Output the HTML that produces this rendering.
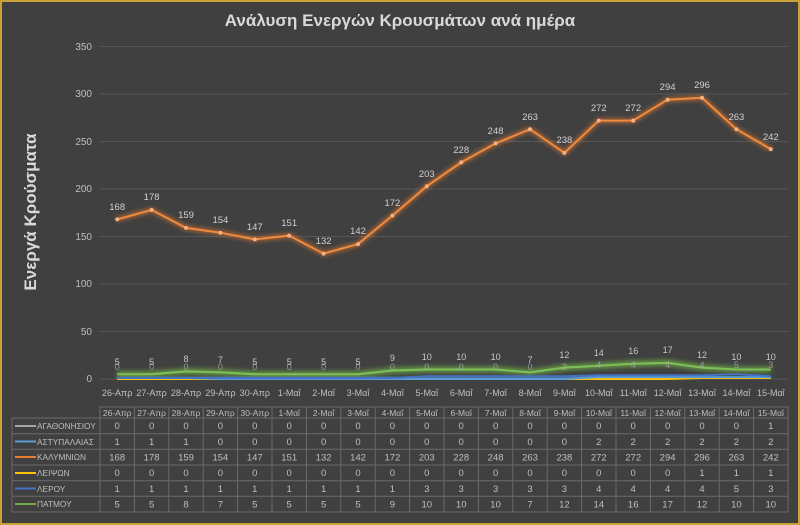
<!DOCTYPE html>
<html><head><meta charset="utf-8"><style>
html,body{margin:0;padding:0;background:#404040}
svg{display:block}
text{font-family:"Liberation Sans",sans-serif}
</style></head><body>
<svg width="800" height="525" viewBox="0 0 800 525" xmlns="http://www.w3.org/2000/svg">
<defs><filter id="g" x="-5%" y="-50%" width="110%" height="200%"><feGaussianBlur stdDeviation="2.5"/></filter></defs>
<rect x="1" y="1" width="798" height="523" fill="#404040" stroke="#c9a235" stroke-width="2"/>
<text x="400" y="26" text-anchor="middle" font-size="17" font-weight="bold" fill="#d9d9d9">Ανάλυση Ενεργών Κρουσμάτων ανά ημέρα</text>
<text transform="translate(36,212) rotate(-90)" text-anchor="middle" font-size="17" font-weight="bold" fill="#d9d9d9">Ενεργά Κρούσματα</text>
<g stroke="#565656" stroke-width="1">
<line x1="100" x2="788" y1="46.5" y2="46.5"/><line x1="100" x2="788" y1="94" y2="94"/><line x1="100" x2="788" y1="141.5" y2="141.5"/><line x1="100" x2="788" y1="189" y2="189"/><line x1="100" x2="788" y1="236.5" y2="236.5"/><line x1="100" x2="788" y1="284" y2="284"/><line x1="100" x2="788" y1="331.5" y2="331.5"/><line x1="100" x2="788" y1="379" y2="379"/>
</g>
<g font-size="10" fill="#bfbfbf" text-anchor="end">
<text x="92" y="50">350</text><text x="92" y="97">300</text><text x="92" y="145">250</text><text x="92" y="192">200</text><text x="92" y="240">150</text><text x="92" y="287">100</text><text x="92" y="335">50</text><text x="92" y="382">0</text>
</g>
<g font-size="9" fill="#bfbfbf" text-anchor="middle">
<text x="117.2" y="396">26-Απρ</text><text x="151.6" y="396">27-Απρ</text><text x="186" y="396">28-Απρ</text><text x="220.4" y="396">29-Απρ</text><text x="254.8" y="396">30-Απρ</text><text x="289.2" y="396">1-Μαΐ</text><text x="323.6" y="396">2-Μαΐ</text><text x="358" y="396">3-Μαΐ</text><text x="392.4" y="396">4-Μαΐ</text><text x="426.8" y="396">5-Μαΐ</text><text x="461.2" y="396">6-Μαΐ</text><text x="495.6" y="396">7-Μαΐ</text><text x="530" y="396">8-Μαΐ</text><text x="564.4" y="396">9-Μαΐ</text><text x="598.8" y="396">10-Μαΐ</text><text x="633.2" y="396">11-Μαΐ</text><text x="667.6" y="396">12-Μαΐ</text><text x="702" y="396">13-Μαΐ</text><text x="736.4" y="396">14-Μαΐ</text><text x="770.8" y="396">15-Μαΐ</text>
</g>
<polyline filter="url(#g)" fill="none" stroke="#ed7d31" stroke-width="4" opacity="0.7" points="117.2,219.4 151.6,209.9 186,227.9 220.4,232.7 254.8,239.4 289.2,235.6 323.6,253.6 358,244.1 392.4,215.6 426.8,186.2 461.2,162.4 495.6,143.4 530,129.2 564.4,152.9 598.8,120.6 633.2,120.6 667.6,99.7 702,97.8 736.4,129.2 770.8,149.1"/>
<polyline fill="none" stroke="#f08a3c" stroke-width="2" points="117.2,219.4 151.6,209.9 186,227.9 220.4,232.7 254.8,239.4 289.2,235.6 323.6,253.6 358,244.1 392.4,215.6 426.8,186.2 461.2,162.4 495.6,143.4 530,129.2 564.4,152.9 598.8,120.6 633.2,120.6 667.6,99.7 702,97.8 736.4,129.2 770.8,149.1"/>
<g fill="#f4b183"><circle cx="117.2" cy="219.4" r="2"/><circle cx="151.6" cy="209.9" r="2"/><circle cx="186" cy="227.9" r="2"/><circle cx="220.4" cy="232.7" r="2"/><circle cx="254.8" cy="239.4" r="2"/><circle cx="289.2" cy="235.6" r="2"/><circle cx="323.6" cy="253.6" r="2"/><circle cx="358" cy="244.1" r="2"/><circle cx="392.4" cy="215.6" r="2"/><circle cx="426.8" cy="186.2" r="2"/><circle cx="461.2" cy="162.4" r="2"/><circle cx="495.6" cy="143.4" r="2"/><circle cx="530" cy="129.2" r="2"/><circle cx="564.4" cy="152.9" r="2"/><circle cx="598.8" cy="120.6" r="2"/><circle cx="633.2" cy="120.6" r="2"/><circle cx="667.6" cy="99.7" r="2"/><circle cx="702" cy="97.8" r="2"/><circle cx="736.4" cy="129.2" r="2"/><circle cx="770.8" cy="149.1" r="2"/></g>
<g font-size="9.5" fill="#d0d0d0" text-anchor="middle">
<text x="117.2" y="210">168</text><text x="151.6" y="200">178</text><text x="186" y="218">159</text><text x="220.4" y="223">154</text><text x="254.8" y="230">147</text><text x="289.2" y="226">151</text><text x="323.6" y="244">132</text><text x="358" y="234">142</text><text x="392.4" y="206">172</text><text x="426.8" y="177">203</text><text x="461.2" y="153">228</text><text x="495.6" y="134">248</text><text x="530" y="120">263</text><text x="564.4" y="143">238</text><text x="598.8" y="111">272</text><text x="633.2" y="111">272</text><text x="667.6" y="90">294</text><text x="702" y="88">296</text><text x="736.4" y="120">263</text><text x="770.8" y="140">242</text>
</g>
<polyline filter="url(#g)" fill="none" stroke="#70ad47" stroke-width="6" opacity="0.8" points="117.2,374.2 151.6,374.2 186,371.4 220.4,372.4 254.8,374.2 289.2,374.2 323.6,374.2 358,374.2 392.4,370.5 426.8,369.5 461.2,369.5 495.6,369.5 530,372.4 564.4,367.6 598.8,365.7 633.2,363.8 667.6,362.9 702,367.6 736.4,369.5 770.8,369.5"/>
<polyline filter="url(#g)" fill="none" stroke="#5b9bd5" stroke-width="5" opacity="0.7" points="117.2,378 770.8,377"/>
<polyline fill="none" stroke="#ffc000" stroke-width="2" points="117.2,379 667.6,379 702,378 770.8,378"/>
<polyline fill="none" stroke="#5b9bd5" stroke-width="2" points="117.2,378 186,378 220.4,379 564.4,379 598.8,377.1 770.8,377.1"/>
<polyline fill="none" stroke="#4472c4" stroke-width="2" points="117.2,378 392.4,378 426.8,376.2 564.4,376.2 598.8,375.2 702,375.2 736.4,374.2 770.8,376.2"/>
<polyline fill="none" stroke="#7cc05a" stroke-width="2" points="117.2,374.2 151.6,374.2 186,371.4 220.4,372.4 254.8,374.2 289.2,374.2 323.6,374.2 358,374.2 392.4,370.5 426.8,369.5 461.2,369.5 495.6,369.5 530,372.4 564.4,367.6 598.8,365.7 633.2,363.8 667.6,362.9 702,367.6 736.4,369.5 770.8,369.5"/>
<g font-size="9" fill="#c8c8c8" text-anchor="middle">
<text x="117.2" y="365">5</text><text x="151.6" y="365">5</text><text x="186" y="362">8</text><text x="220.4" y="363">7</text><text x="254.8" y="365">5</text><text x="289.2" y="365">5</text><text x="323.6" y="365">5</text><text x="358" y="365">5</text><text x="392.4" y="361">9</text><text x="426.8" y="360">10</text><text x="461.2" y="360">10</text><text x="495.6" y="360">10</text><text x="530" y="363">7</text><text x="564.4" y="358">12</text><text x="598.8" y="356">14</text><text x="633.2" y="354">16</text><text x="667.6" y="353">17</text><text x="702" y="358">12</text><text x="736.4" y="360">10</text><text x="770.8" y="360">10</text>
</g>
<g font-size="9" fill="#aaaaaa" text-anchor="middle" opacity="0.8">
<text x="117.2" y="370">0</text><text x="151.6" y="370">0</text><text x="186" y="370">0</text><text x="220.4" y="370">0</text><text x="254.8" y="370">0</text><text x="289.2" y="370">0</text><text x="323.6" y="370">0</text><text x="358" y="370">0</text><text x="392.4" y="370">0</text><text x="426.8" y="370">0</text><text x="461.2" y="370">0</text><text x="495.6" y="370">0</text><text x="530" y="370">0</text><text x="564.4" y="370">3</text><text x="598.8" y="368">4</text><text x="633.2" y="368">4</text><text x="667.6" y="368">4</text><text x="702" y="368">4</text><text x="736.4" y="368">5</text><text x="770.8" y="368">3</text>
</g>
<g stroke="#6a6a6a" stroke-width="1" fill="none">
<rect x="100" y="407" width="688" height="105"/>
<rect x="12" y="418" width="88" height="94"/>
<line x1="12" x2="788" y1="418" y2="418"/><line x1="12" x2="788" y1="433.7" y2="433.7"/><line x1="12" x2="788" y1="449.3" y2="449.3"/><line x1="12" x2="788" y1="465" y2="465"/><line x1="12" x2="788" y1="480.7" y2="480.7"/><line x1="12" x2="788" y1="496.3" y2="496.3"/>
<line x1="134.4" x2="134.4" y1="407" y2="512"/><line x1="168.8" x2="168.8" y1="407" y2="512"/><line x1="203.2" x2="203.2" y1="407" y2="512"/><line x1="237.6" x2="237.6" y1="407" y2="512"/><line x1="272" x2="272" y1="407" y2="512"/><line x1="306.4" x2="306.4" y1="407" y2="512"/><line x1="340.8" x2="340.8" y1="407" y2="512"/><line x1="375.2" x2="375.2" y1="407" y2="512"/><line x1="409.6" x2="409.6" y1="407" y2="512"/><line x1="444" x2="444" y1="407" y2="512"/><line x1="478.4" x2="478.4" y1="407" y2="512"/><line x1="512.8" x2="512.8" y1="407" y2="512"/><line x1="547.2" x2="547.2" y1="407" y2="512"/><line x1="581.6" x2="581.6" y1="407" y2="512"/><line x1="616" x2="616" y1="407" y2="512"/><line x1="650.4" x2="650.4" y1="407" y2="512"/><line x1="684.8" x2="684.8" y1="407" y2="512"/><line x1="719.2" x2="719.2" y1="407" y2="512"/><line x1="753.6" x2="753.6" y1="407" y2="512"/>
</g>
<g stroke-width="2">
<line x1="15" x2="36" y1="426" y2="426" stroke="#a5a5a5"/><line x1="15" x2="36" y1="441.5" y2="441.5" stroke="#5b9bd5"/><line x1="15" x2="36" y1="457" y2="457" stroke="#ed7d31"/><line x1="15" x2="36" y1="473" y2="473" stroke="#ffc000"/><line x1="15" x2="36" y1="488.5" y2="488.5" stroke="#4472c4"/><line x1="15" x2="36" y1="504" y2="504" stroke="#70ad47"/>
</g>
<g font-size="8.3" fill="#bfbfbf">
<text x="37" y="429">ΑΓΑΘΟΝΗΣΙΟΥ</text><text x="37" y="445">ΑΣΤΥΠΑΛΑΙΑΣ</text><text x="37" y="460">ΚΑΛΥΜΝΙΩΝ</text><text x="37" y="476">ΛΕΙΨΩΝ</text><text x="37" y="492">ΛΕΡΟΥ</text><text x="37" y="507">ΠΑΤΜΟΥ</text>
</g>
<g font-size="8.5" fill="#bfbfbf" text-anchor="middle">
<text x="117.2" y="416">26-Απρ</text><text x="151.6" y="416">27-Απρ</text><text x="186" y="416">28-Απρ</text><text x="220.4" y="416">29-Απρ</text><text x="254.8" y="416">30-Απρ</text><text x="289.2" y="416">1-Μαΐ</text><text x="323.6" y="416">2-Μαΐ</text><text x="358" y="416">3-Μαΐ</text><text x="392.4" y="416">4-Μαΐ</text><text x="426.8" y="416">5-Μαΐ</text><text x="461.2" y="416">6-Μαΐ</text><text x="495.6" y="416">7-Μαΐ</text><text x="530" y="416">8-Μαΐ</text><text x="564.4" y="416">9-Μαΐ</text><text x="598.8" y="416">10-Μαΐ</text><text x="633.2" y="416">11-Μαΐ</text><text x="667.6" y="416">12-Μαΐ</text><text x="702" y="416">13-Μαΐ</text><text x="736.4" y="416">14-Μαΐ</text><text x="770.8" y="416">15-Μαΐ</text>
</g>
<g font-size="9.5" fill="#bfbfbf" text-anchor="middle">
<g transform="translate(0,429)"><text x="117.2">0</text><text x="151.6">0</text><text x="186">0</text><text x="220.4">0</text><text x="254.8">0</text><text x="289.2">0</text><text x="323.6">0</text><text x="358">0</text><text x="392.4">0</text><text x="426.8">0</text><text x="461.2">0</text><text x="495.6">0</text><text x="530">0</text><text x="564.4">0</text><text x="598.8">0</text><text x="633.2">0</text><text x="667.6">0</text><text x="702">0</text><text x="736.4">0</text><text x="770.8">1</text></g>
<g transform="translate(0,445)"><text x="117.2">1</text><text x="151.6">1</text><text x="186">1</text><text x="220.4">0</text><text x="254.8">0</text><text x="289.2">0</text><text x="323.6">0</text><text x="358">0</text><text x="392.4">0</text><text x="426.8">0</text><text x="461.2">0</text><text x="495.6">0</text><text x="530">0</text><text x="564.4">0</text><text x="598.8">2</text><text x="633.2">2</text><text x="667.6">2</text><text x="702">2</text><text x="736.4">2</text><text x="770.8">2</text></g>
<g transform="translate(0,460.5)"><text x="117.2">168</text><text x="151.6">178</text><text x="186">159</text><text x="220.4">154</text><text x="254.8">147</text><text x="289.2">151</text><text x="323.6">132</text><text x="358">142</text><text x="392.4">172</text><text x="426.8">203</text><text x="461.2">228</text><text x="495.6">248</text><text x="530">263</text><text x="564.4">238</text><text x="598.8">272</text><text x="633.2">272</text><text x="667.6">294</text><text x="702">296</text><text x="736.4">263</text><text x="770.8">242</text></g>
<g transform="translate(0,476)"><text x="117.2">0</text><text x="151.6">0</text><text x="186">0</text><text x="220.4">0</text><text x="254.8">0</text><text x="289.2">0</text><text x="323.6">0</text><text x="358">0</text><text x="392.4">0</text><text x="426.8">0</text><text x="461.2">0</text><text x="495.6">0</text><text x="530">0</text><text x="564.4">0</text><text x="598.8">0</text><text x="633.2">0</text><text x="667.6">0</text><text x="702">1</text><text x="736.4">1</text><text x="770.8">1</text></g>
<g transform="translate(0,492)"><text x="117.2">1</text><text x="151.6">1</text><text x="186">1</text><text x="220.4">1</text><text x="254.8">1</text><text x="289.2">1</text><text x="323.6">1</text><text x="358">1</text><text x="392.4">1</text><text x="426.8">3</text><text x="461.2">3</text><text x="495.6">3</text><text x="530">3</text><text x="564.4">3</text><text x="598.8">4</text><text x="633.2">4</text><text x="667.6">4</text><text x="702">4</text><text x="736.4">5</text><text x="770.8">3</text></g>
<g transform="translate(0,507.5)"><text x="117.2">5</text><text x="151.6">5</text><text x="186">8</text><text x="220.4">7</text><text x="254.8">5</text><text x="289.2">5</text><text x="323.6">5</text><text x="358">5</text><text x="392.4">9</text><text x="426.8">10</text><text x="461.2">10</text><text x="495.6">10</text><text x="530">7</text><text x="564.4">12</text><text x="598.8">14</text><text x="633.2">16</text><text x="667.6">17</text><text x="702">12</text><text x="736.4">10</text><text x="770.8">10</text></g>
</g>
</svg>
</body></html>
